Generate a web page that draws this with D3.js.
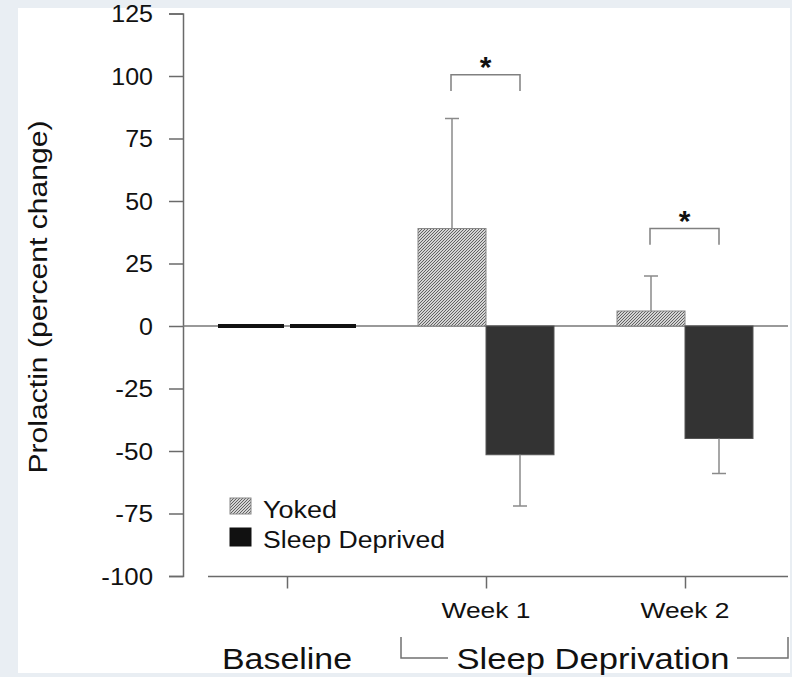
<!DOCTYPE html>
<html>
<head>
<meta charset="utf-8">
<script src="https://cdn.jsdelivr.net/npm/d3@7"></script>
<style>
  body { margin: 0; background: #e9eef3; }
  text { font-family: "Liberation Sans", Arial, sans-serif; fill: #111; }
</style>
</head>
<body>
<div id="chart"></div>
<script>
// data
var groups = ["Baseline", "Week 1", "Week 2"];
var series = ["Yoked", "Sleep Deprived"];
var yokedMean = [0, 39, 6];
var yokedErr = [0, 44, 14];
var deprivedMean = [0, -51.5, -45];
var deprivedErr = [0, 20.5, 14];
var yTicks = [-100, -75, -50, -25, 0, 25, 50, 75, 100, 125];
// significance brackets: group, top of bracket, leg end
var sigGroups = ["Week 1", "Week 2"];
var sigTop = [100.5, 39];
var sigLeg = [94, 32.5];

var svgWidth = 792, svgHeight = 677;

var svg = d3.select("#chart").append("svg")
  .attr("width", svgWidth)
  .attr("height", svgHeight);

// white panel
svg.append("rect")
  .attr("x", 18).attr("y", 8)
  .attr("width", 772).attr("height", 665)
  .attr("fill", "#fff");

// hatch pattern for yoked bars
var defs = svg.append("defs");
var pat = defs.append("pattern")
  .attr("id", "hatch")
  .attr("patternUnits", "userSpaceOnUse")
  .attr("width", 3).attr("height", 3);
pat.append("rect").attr("width", 3).attr("height", 3).attr("fill", "#d4d4d4");
pat.append("path")
  .attr("d", "M-1,1 l2,-2 M0,3 l3,-3 M2,4 l2,-2")
  .attr("stroke", "#555")
  .attr("stroke-width", 0.9);

// scales
var y = d3.scaleLinear().domain([-100, 125]).range([576, 13.5]);
var x = d3.scalePoint().domain(groups).range([287, 685]);
var barW = 68;
var xs = d3.scaleBand().domain(series).range([-barW, barW]);

var axisColor = "#6a6a6a";

// y axis
var yAxis = svg.append("g")
  .attr("transform", "translate(183,0)")
  .call(d3.axisLeft(y).tickValues(yTicks).tickSize(14).tickPadding(16)
    .tickFormat(d => String(d)));
yAxis.select(".domain").attr("stroke", axisColor).attr("stroke-width", 1.5);
yAxis.selectAll(".tick line").attr("stroke", axisColor).attr("stroke-width", 1.5);
yAxis.selectAll(".tick text")
  .attr("font-size", 23)
  .style("font-family", "'Liberation Sans', Arial, sans-serif")
  .attr("fill", "#111")
  .attr("dy", "0.36em")
  .attr("lengthAdjust", "spacingAndGlyphs")
  .attr("textLength", function(d) {
    var s = String(Math.abs(d));
    return s.length * 13.9 + (d < 0 ? 10 : 0);
  });

// x axis (offset from y axis)
var xAxis = svg.append("g")
  .attr("transform", "translate(0,576.5)")
  .call(d3.axisBottom(x).tickSize(12).tickSizeOuter(0).tickFormat(""));
xAxis.select(".domain").attr("d", "M208,0H788").attr("stroke", axisColor).attr("stroke-width", 1.5);
xAxis.selectAll(".tick line").attr("stroke", axisColor).attr("stroke-width", 1.5);

// week labels
svg.selectAll(".weekLabel")
  .data(groups.slice(1))
  .enter()
  .append("text")
  .attr("class", "weekLabel")
  .attr("x", d => x(d))
  .attr("y", 618)
  .attr("text-anchor", "middle")
  .attr("font-size", 22)
  .attr("lengthAdjust", "spacingAndGlyphs")
  .attr("textLength", 89)
  .text(d => d);

// zero line
svg.append("line")
  .attr("x1", 183).attr("x2", 788)
  .attr("y1", y(0)).attr("y2", y(0))
  .attr("stroke", "#777").attr("stroke-width", 1.3);

// bars
var barData = [];
groups.forEach(function(g, i) {
  barData.push({ g: g, s: "Yoked", v: yokedMean[i], e: yokedErr[i] });
  barData.push({ g: g, s: "Sleep Deprived", v: deprivedMean[i], e: deprivedErr[i] });
});

var bars = svg.append("g");
bars.selectAll("rect")
  .data(barData.filter(d => d.v !== 0))
  .enter()
  .append("rect")
  .attr("x", d => x(d.g) + xs(d.s))
  .attr("width", xs.bandwidth())
  .attr("y", d => y(Math.max(0, d.v)))
  .attr("height", d => Math.abs(y(d.v) - y(0)))
  .attr("fill", d => d.s === "Yoked" ? "url(#hatch)" : "#333")
  .attr("stroke", d => d.s === "Yoked" ? "#888" : "#555")
  .attr("stroke-width", 1);

// zero-height bars show only as their outline
bars.selectAll(".flat")
  .data(barData.filter(d => d.v === 0))
  .enter()
  .append("line")
  .attr("class", "flat")
  .attr("x1", d => x(d.g) + xs(d.s) + (d.s === "Yoked" ? -1 : 3))
  .attr("x2", d => x(d.g) + xs(d.s) + xs.bandwidth() - (d.s === "Yoked" ? 3 : -1))
  .attr("y1", d => y(d.v))
  .attr("y2", d => y(d.v))
  .attr("stroke", "#111")
  .attr("stroke-width", 4);

// error bars (one sided)
var errData = barData.filter(d => d.e > 0);
var errG = svg.append("g").attr("stroke", "#8a8a8a").attr("stroke-width", 1.5);
errG.selectAll(".stem")
  .data(errData)
  .enter()
  .append("line")
  .attr("x1", d => x(d.g) + xs(d.s) + xs.bandwidth() / 2)
  .attr("x2", d => x(d.g) + xs(d.s) + xs.bandwidth() / 2)
  .attr("y1", d => y(d.v))
  .attr("y2", d => y(d.v + (d.v >= 0 ? d.e : -d.e)));
errG.selectAll(".cap")
  .data(errData)
  .enter()
  .append("line")
  .attr("x1", d => x(d.g) + xs(d.s) + xs.bandwidth() / 2 - 7)
  .attr("x2", d => x(d.g) + xs(d.s) + xs.bandwidth() / 2 + 7)
  .attr("y1", d => y(d.v + (d.v >= 0 ? d.e : -d.e)))
  .attr("y2", d => y(d.v + (d.v >= 0 ? d.e : -d.e)));

// significance brackets
sigGroups.forEach(function(g, i) {
  var x1 = x(g) + xs("Yoked") + xs.bandwidth() / 2 - 1;
  var x2 = x(g) + xs("Sleep Deprived") + xs.bandwidth() / 2;
  svg.append("path")
    .attr("d", `M${x1},${y(sigLeg[i])}V${y(sigTop[i])}H${x2}V${y(sigLeg[i])}`)
    .attr("fill", "none")
    .attr("stroke", "#808080")
    .attr("stroke-width", 1.5);
  svg.append("text")
    .attr("x", (x1 + x2) / 2)
    .attr("y", y(sigTop[i]) + 2)
    .attr("text-anchor", "middle")
    .attr("font-size", 30)
    .attr("font-weight", "bold")
    .text("*");
});

// legend
var legend = svg.append("g");
legend.selectAll("rect")
  .data(series)
  .enter()
  .append("rect")
  .attr("x", 230)
  .attr("y", (d, i) => 498 + i * 30)
  .attr("width", 21)
  .attr("height", (d, i) => i === 0 ? 16 : 18)
  .attr("fill", d => d === "Yoked" ? "url(#hatch)" : "#111")
  .attr("stroke", d => d === "Yoked" ? "#888" : "#111")
  .attr("stroke-width", 1);
legend.selectAll("text")
  .data(series)
  .enter()
  .append("text")
  .attr("x", 263)
  .attr("y", (d, i) => 518 + i * 30)
  .attr("font-size", 23)
  .attr("lengthAdjust", "spacingAndGlyphs")
  .attr("textLength", (d, i) => i === 0 ? 74 : 182)
  .text(d => d);

// y axis title
svg.append("text")
  .attr("transform", "translate(47,297) rotate(-90)")
  .attr("text-anchor", "middle")
  .attr("font-size", 26)
  .attr("lengthAdjust", "spacingAndGlyphs")
  .attr("textLength", 353)
  .text("Prolactin (percent change)");

// bottom labels
svg.append("text")
  .attr("x", 287)
  .attr("y", 669)
  .attr("text-anchor", "middle")
  .attr("font-size", 29)
  .attr("lengthAdjust", "spacingAndGlyphs")
  .attr("textLength", 130)
  .text("Baseline");

svg.append("text")
  .attr("x", 593)
  .attr("y", 669)
  .attr("text-anchor", "middle")
  .attr("font-size", 30)
  .attr("lengthAdjust", "spacingAndGlyphs")
  .attr("textLength", 273)
  .text("Sleep Deprivation");

svg.append("path")
  .attr("d", "M401,637V658H448 M737,658H788V637")
  .attr("fill", "none")
  .attr("stroke", "#707070")
  .attr("stroke-width", 1.5);
</script>
</body>
</html>
